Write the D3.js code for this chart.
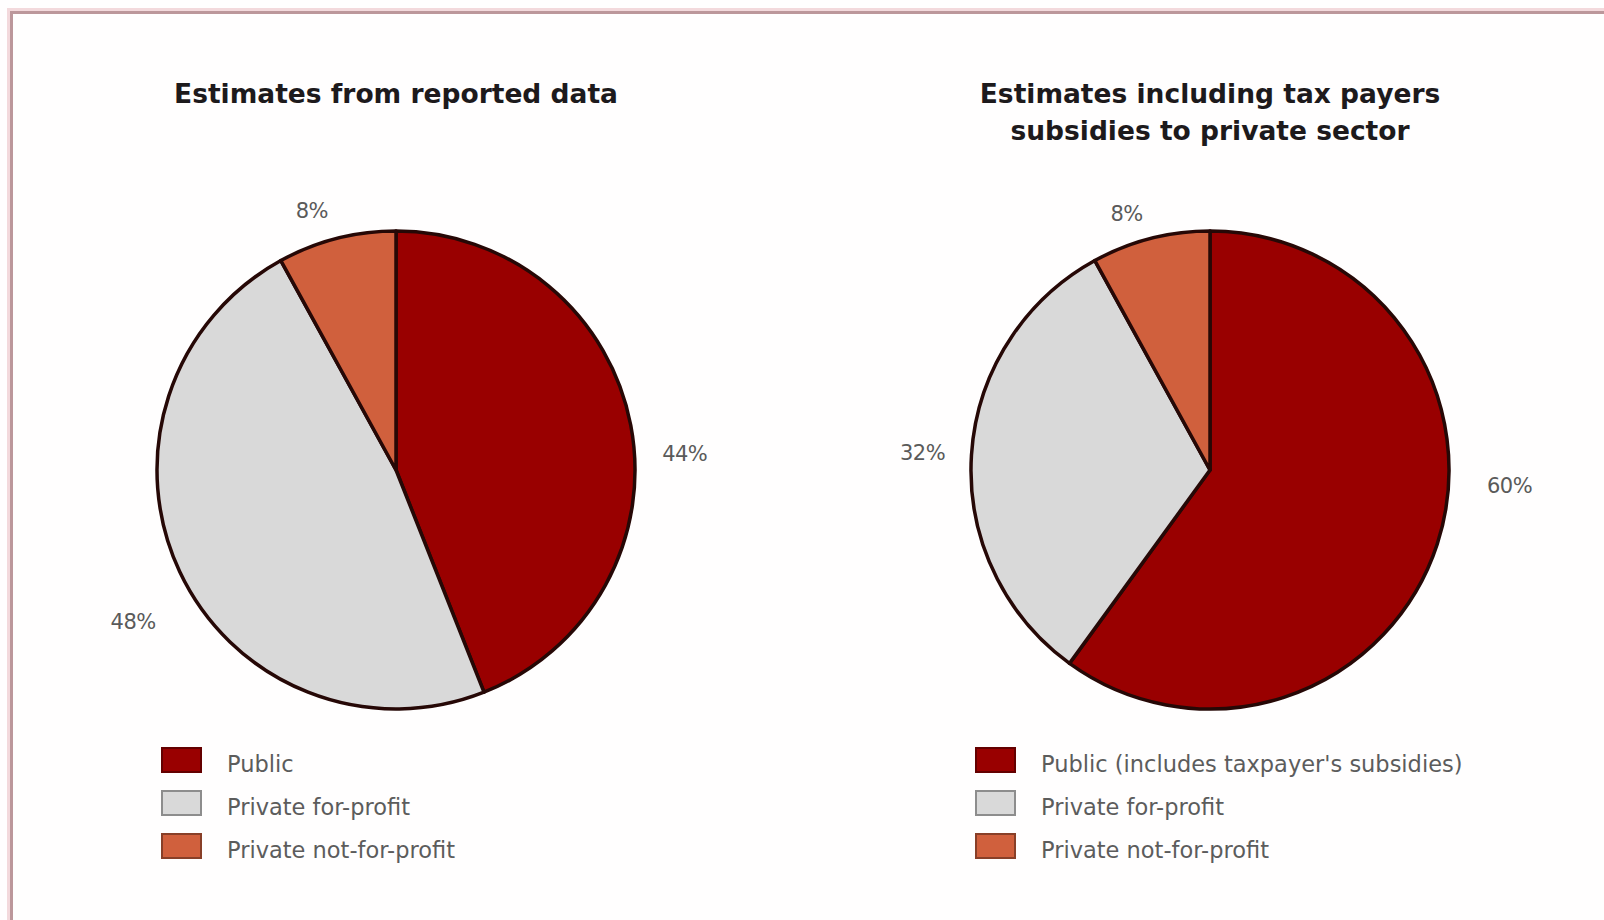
<!DOCTYPE html>
<html>
<head>
<meta charset="utf-8">
<script src="https://cdn.jsdelivr.net/npm/d3@7"></script>
<style>
  html, body { margin: 0; padding: 0; background: #fffefe; }
  svg { display: block; }
</style>
</head>
<body>
<svg id="chart" width="1604" height="920"></svg>
<script>
// Shares of spending by sector, in percent
const sectors = ["Public", "Private for-profit", "Private not-for-profit"];
const reportedValues = [44, 48, 8];
const subsidisedValues = [60, 32, 8];

const reportedTitle = ["Estimates from reported data"];
const subsidisedTitle = ["Estimates including tax payers", "subsidies to private sector"];

const reportedLegend = ["Public", "Private for-profit", "Private not-for-profit"];
const subsidisedLegend = ["Public (includes taxpayer's subsidies)", "Private for-profit", "Private not-for-profit"];

// Where each percentage label sits: polar angle (degrees, clockwise from 12 o'clock)
// and distance from the pie centre as a fraction of the radius.
const reportedLabelPlacement = [[86.8, 1.21], [240, 1.27], [342, 1.14]];
const subsidisedLabelPlacement = [[93, 1.255], [273.5, 1.205], [342, 1.13]];

const colour = d3.scaleOrdinal()
  .domain(sectors)
  .range(["#990000", "#d9d9d9", "#d0603d"]);

const svg = d3.select("#chart");

// Page frame
svg.append("rect")
  .attr("x", 8.5).attr("y", 9.5).attr("width", 1700).attr("height", 1000)
  .attr("fill", "none").attr("stroke", "#f3d9dc").attr("stroke-width", 3);
svg.append("rect")
  .attr("x", 11.5).attr("y", 12.5).attr("width", 1700).attr("height", 1000)
  .attr("fill", "none").attr("stroke", "#bc979b").attr("stroke-width", 3);

const radius = 239;
const pie = d3.pie().sort(null).value(d => d.value);
const arc = d3.arc().innerRadius(0).outerRadius(radius);

function drawPanel(cx, titleLines, values, legendLabels, labelPlacement) {
  const g = svg.append("g");

  // Title
  const title = g.append("text")
    .attr("x", cx).attr("y", 103)
    .attr("text-anchor", "middle")
    .attr("font-family", "'DejaVu Sans', sans-serif")
    .attr("font-weight", "bold")
    .attr("font-size", 26.5)
    .attr("fill", "#1d1a1c");
  titleLines.forEach((line, i) => {
    title.append("tspan").attr("x", cx).attr("dy", i === 0 ? 0 : 37).text(line);
  });

  // Pie
  const data = sectors.map((s, i) => ({ sector: s, value: values[i] }));
  const arcs = pie(data);
  const pieG = g.append("g").attr("transform", `translate(${cx},470)`);
  pieG.selectAll("path")
    .data(arcs)
    .join("path")
    .attr("d", arc)
    .attr("fill", d => colour(d.data.sector))
    .attr("stroke", "#260806")
    .attr("stroke-width", 3.5)
    .attr("stroke-linejoin", "round");

  // Percentage labels
  pieG.selectAll("text.pct")
    .data(arcs)
    .join("text")
    .attr("class", "pct")
    .attr("x", (d, i) => Math.sin(labelPlacement[i][0] * Math.PI / 180) * radius * labelPlacement[i][1])
    .attr("y", (d, i) => -Math.cos(labelPlacement[i][0] * Math.PI / 180) * radius * labelPlacement[i][1])
    .attr("dy", "0.36em")
    .attr("text-anchor", "middle")
    .attr("font-family", "'DejaVu Sans', sans-serif")
    .attr("font-size", 21)
    .attr("letter-spacing", -0.5)
    .attr("fill", "#5a5a5a")
    .text(d => `${d.data.value}%`);

  // Legend
  const legend = g.append("g").attr("transform", `translate(${cx - 235},747)`);
  const rows = legend.selectAll("g")
    .data(sectors)
    .join("g")
    .attr("transform", (d, i) => `translate(0,${i * 43})`);
  rows.append("rect")
    .attr("x", 1).attr("y", 1)
    .attr("width", 39).attr("height", 24)
    .attr("fill", d => colour(d))
    .attr("stroke", d => d3.color(colour(d)).darker(1.2))
    .attr("stroke-width", 2);
  rows.append("text")
    .attr("x", 66).attr("y", 25)
    .attr("font-family", "'DejaVu Sans', sans-serif")
    .attr("font-size", 22.5)
    .attr("fill", "#5c5c5c")
    .text((d, i) => legendLabels[i]);
}

drawPanel(396, reportedTitle, reportedValues, reportedLegend, reportedLabelPlacement);
drawPanel(1210, subsidisedTitle, subsidisedValues, subsidisedLegend, subsidisedLabelPlacement);
</script>
</body>
</html>
